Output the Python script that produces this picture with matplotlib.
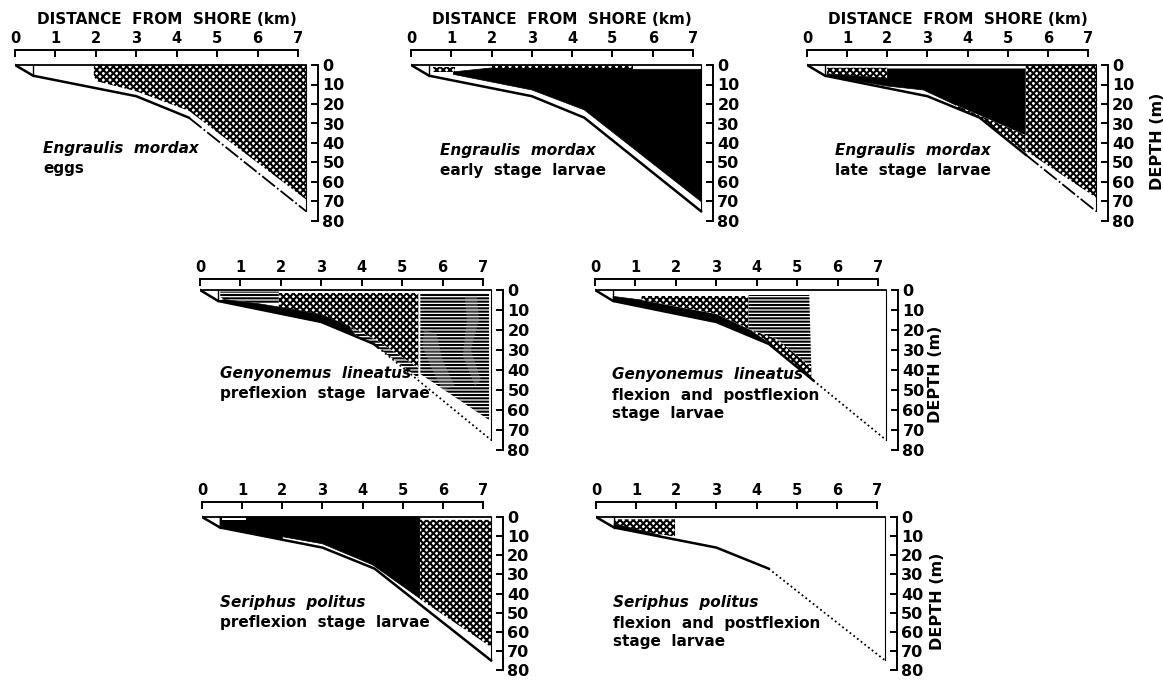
import matplotlib
matplotlib.use("Agg")
import matplotlib.pyplot as plt
import numpy as np

plt.rcParams['font.family'] = ['DejaVu Sans']
plt.rcParams['hatch.linewidth'] = 1.5

W, H = 1163, 680

# sea floor profile (km from shore, depth m)
bottom_km = [0.0, 0.45, 3.0, 4.3, 7.2]
bottom_depth = [0.0, 5.5, 16.0, 27.0, 75.0]
station_km = 0.45
section_end = 7.2

km_ticks = [0, 1, 2, 3, 4, 5, 6, 7]
depth_ticks = [0, 10, 20, 30, 40, 50, 60, 70, 80]

# shaded areas, (km, depth) vertices
p1_stipple = [(1.95, 0), (7.2, 0), (7.2, 69), (4.3, 23.5), (3.0, 13.5), (2.05, 8.5), (1.95, 6)]

p2_black = [(1.05, 3.5), (2.0, 1.5), (5.5, 1.5), (5.5, 2.2), (7.2, 2.2), (7.2, 70),
            (4.3, 23), (3.0, 12.8), (1.05, 4.8)]
p2_stipple_a = [(0.55, 1.2), (1.1, 1.2), (1.1, 3.8), (0.55, 3.8)]
p2_stipple_b = [(2.0, 0), (5.5, 0), (5.5, 1.5), (2.0, 1.5)]

p3_stipple_a = [(0.5, 1.4), (2.0, 1.4), (2.0, 6.8), (0.5, 4.5)]
p3_black = [(2.0, 2.0), (5.45, 2.0), (5.45, 36), (3.7, 20.5), (2.9, 12.8), (2.0, 10.8),
            (0.5, 5.6), (0.5, 4.5), (2.0, 6.8)]
p3_stipple_b = [(3.7, 20.5), (5.45, 36), (5.45, 45), (4.3, 27), (3.7, 21.9)]
p3_stipple_c = [(5.45, 0), (7.2, 0), (7.2, 68), (5.45, 44)]

p4_hatch_a = [(0.5, 0.8), (1.95, 0.8), (1.95, 6.5), (1.4, 6.5), (0.6, 4.8), (0.5, 3.5)]
p4_stipple = [(1.95, 1.5), (5.4, 1.5), (5.4, 39), (4.4, 25.5), (3.7, 18.2), (3.0, 12.3), (1.95, 8.5)]
p4_black = [(0.6, 4.8), (1.4, 6.7), (1.95, 8.5), (3.0, 12.3), (3.7, 18.2), (3.85, 22.5),
            (3.0, 16), (0.45, 5.5)]
p4_hatch_b = [(3.7, 18.2), (4.4, 25.5), (5.4, 39), (5.4, 44), (4.3, 27.3), (3.85, 22.5)]
p4_hatch_c = [(5.45, 1.5), (7.15, 1.5), (7.15, 65), (5.45, 42)]
# faint grey smudges inside the hatched block
p4_grey_a = [(6.55, 3), (6.85, 3), (6.9, 15), (6.7, 30), (6.95, 45), (6.8, 48), (6.5, 33), (6.6, 15)]
p4_grey_b = [(5.55, 20), (5.85, 22), (6.0, 35), (6.3, 48), (6.0, 50), (5.7, 38), (5.5, 28)]

p5_black = [(0.45, 3.2), (1.15, 5.0), (3.0, 12.0), (3.8, 19.5), (4.25, 25.5), (4.3, 27),
            (3.0, 16), (0.45, 5.5)]
p5_stipple_a = [(1.15, 3.0), (3.8, 3.0), (3.8, 19.5), (3.0, 12.0), (1.15, 5.0)]
p5_stipple_b = [(3.8, 19.5), (4.5, 24.5), (5.35, 38.5), (5.35, 44.2), (4.3, 27), (4.25, 25.5)]
p5_hatch = [(3.8, 2.5), (5.3, 2.5), (5.35, 38.5), (4.5, 24.5), (3.8, 19.5)]

p6_black = [(0.45, 0), (5.43, 0), (5.43, 42.6), (4.25, 25.0), (3.0, 14.0), (2.0, 10.3),
            (2.0, 11.7), (0.45, 5.5)]
p6_white = [(0.5, 0.6), (1.1, 0.6), (1.1, 1.8), (0.5, 1.8)]
p6_stipple = [(5.43, 1.5), (7.2, 1.5), (7.2, 68), (5.43, 43)]

p7_stipple = [(0.45, 1.2), (1.97, 1.2), (1.97, 10.3), (1.3, 8.0), (0.45, 3.5)]
p7_black = [(0.45, 3.5), (1.3, 8.0), (1.6, 9.5), (1.6, 10.2), (0.45, 5.5)]

species = ["Engraulis  mordax", "Engraulis  mordax", "Engraulis  mordax",
           "Genyonemus  lineatus", "Genyonemus  lineatus",
           "Seriphus  politus", "Seriphus  politus"]
stages = ["eggs", "early  stage  larvae", "late  stage  larvae",
          "preflexion  stage  larvae", "flexion  and  postflexion\nstage  larvae",
          "preflexion  stage  larvae", "flexion  and  postflexion\nstage  larvae"]

fig = plt.figure(figsize=(W / 100, H / 100), dpi=100)


def make_ax(x0, x7, y0, y80, top):
    ppk = (x7 - x0) / 7.0
    ppm = (y80 - y0) / 80.0
    right = x0 + 7.5 * ppk
    ytop = y0 + top * ppm
    ax = fig.add_axes([x0 / W, 1 - y80 / H, (right - x0) / W, (y80 - ytop) / H])
    ax.set_xlim(0, 7.5)
    ax.set_ylim(80, top)
    ax.patch.set_alpha(0)
    for s in ['left', 'bottom']:
        ax.spines[s].set_visible(False)
    ax.spines['top'].set_bounds(0, 7)
    ax.spines['right'].set_bounds(0, 80)
    ax.spines['top'].set_linewidth(1.4)
    ax.spines['right'].set_linewidth(1.4)
    ax.xaxis.tick_top()
    ax.yaxis.tick_right()
    ax.set_xticks(km_ticks)
    ax.set_yticks(depth_ticks)
    ax.tick_params(axis='x', direction='in', length=5, width=1.4, labelsize=10.5, pad=3)
    ax.tick_params(axis='y', direction='in', length=5, width=1.4, labelsize=11.5, pad=3)
    for lab in ax.get_xticklabels() + ax.get_yticklabels():
        lab.set_fontweight('bold')
    return ax


def shade(ax, pts, kind):
    xs = [p[0] for p in pts]
    ys = [p[1] for p in pts]
    if kind == 'black':
        ax.fill(xs, ys, color='black', lw=0.5, zorder=2)
    elif kind == 'white':
        ax.fill(xs, ys, color='white', lw=0, zorder=3)
    elif kind == 'grey':
        ax.fill(xs, ys, color='#b0b0b0', lw=0, zorder=2.5, alpha=0.35)
    elif kind == 'stipple':
        ax.fill(xs, ys, facecolor='white', edgecolor='black', hatch='xxxxx', lw=0, zorder=2)
    elif kind == 'hatch':
        ax.fill(xs, ys, facecolor='white', edgecolor='black', hatch='-----', lw=0, zorder=2)


def section(ax, dot_from, dash):
    bk = np.array(bottom_km)
    bd = np.array(bottom_depth)
    ax.plot([0, section_end], [0, 0], color='black', lw=1.3, zorder=4)
    ax.plot([section_end, section_end], [0, bd[-1]], color='black', lw=0.8, zorder=4)
    ax.plot([station_km, station_km], [0, bd[1]], color='black', lw=1.0, zorder=4)
    if dot_from is None:
        ax.plot(bk, bd, color='black', lw=1.8, zorder=4, solid_joinstyle='miter')
    else:
        split = np.interp(dot_from, bk, bd)
        m = bk < dot_from
        ax.plot(list(bk[m]) + [dot_from], list(bd[m]) + [split], color='black', lw=1.8, zorder=4)
        ax.plot([dot_from] + list(bk[~m]), [split] + list(bd[~m]), color='black', lw=1.3,
                ls=dash, zorder=4)


# pixel layout of each panel: x of 0 km, x of 7 km, y of 0 m, y of 80 m, top line depth
layout = [(15, 298, 65, 221, -7.7), (411, 693, 65, 221, -7.7), (807, 1088, 65, 221, -7.7),
          (200, 483, 290, 450, -5.5), (595, 878, 290, 450, -5.5),
          (202, 483, 517, 670, -7.8), (596, 877, 517, 670, -7.8)]
fills = [
    [(p1_stipple, 'stipple')],
    [(p2_black, 'black'), (p2_stipple_a, 'stipple'), (p2_stipple_b, 'stipple')],
    [(p3_stipple_a, 'stipple'), (p3_black, 'black'), (p3_stipple_b, 'stipple'), (p3_stipple_c, 'stipple')],
    [(p4_hatch_a, 'hatch'), (p4_stipple, 'stipple'), (p4_black, 'black'), (p4_hatch_b, 'hatch'),
     (p4_hatch_c, 'hatch'), (p4_grey_a, 'grey'), (p4_grey_b, 'grey')],
    [(p5_black, 'black'), (p5_stipple_a, 'stipple'), (p5_stipple_b, 'stipple'), (p5_hatch, 'hatch')],
    [(p6_black, 'black'), (p6_white, 'white'), (p6_stipple, 'stipple')],
    [(p7_stipple, 'stipple'), (p7_black, 'black')],
]
dash_dot = (0, (9, 1.5, 1, 1.5))
dot = (0, (1, 1.6))
dotted = [(4.3, dash_dot), (None, None), (5.45, dash_dot), (4.4, dot), (5.4, dot), (None, None), (4.3, dot)]
text_pos = [(43, 148), (440, 150), (835, 150), (220, 373), (612, 375), (220, 602), (613, 603)]

axes = []
for i in range(7):
    ax = make_ax(*layout[i])
    for pts, kind in fills[i]:
        shade(ax, pts, kind)
    section(ax, *dotted[i])
    tx, ty = text_pos[i]
    fig.text(tx / W, 1 - ty / H, species[i], style='italic', fontsize=11,
             fontweight='bold', va='center', ha='left')
    fig.text(tx / W, 1 - (ty + 13) / H, stages[i], fontsize=11, fontweight='bold',
             va='top', ha='left', linespacing=1.25)
    axes.append(ax)

# top row titles
for i in range(3):
    x0, x7 = layout[i][0], layout[i][1]
    cx = x0 + 7.5 * (x7 - x0) / 7 / 2
    fig.text(cx / W, 1 - 20 / H, "DISTANCE  FROM  SHORE (km)", fontsize=11, fontweight='bold',
             ha='center', va='center')

# depth labels
for (x, y) in [(1157, 141), (935, 374), (937, 601)]:
    fig.text(x / W, 1 - y / H, "DEPTH (m)", rotation=90, fontsize=11.5, fontweight='bold',
             ha='center', va='center')

fig.savefig("out.png", dpi=100)
